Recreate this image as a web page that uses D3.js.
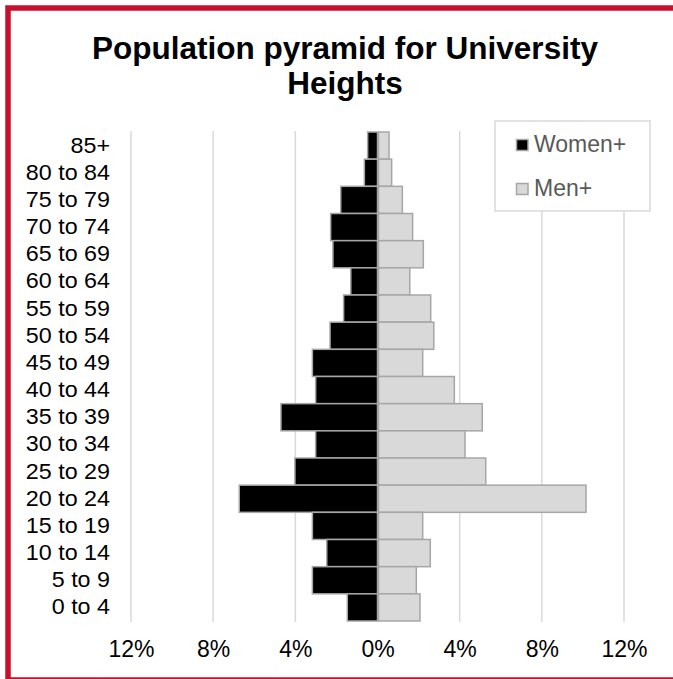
<!DOCTYPE html>
<html>
<head>
<meta charset="utf-8">
<script src="https://cdn.jsdelivr.net/npm/d3@7"></script>
<style>
  html, body { margin: 0; padding: 0; background: #fff; }
  svg { display: block; font-family: "Liberation Sans", Arial, sans-serif; }
</style>
</head>
<body>
<svg id="chart" width="673" height="679"></svg>
<script>
// ---- data ----
const ageGroups = ["85+", "80 to 84", "75 to 79", "70 to 74", "65 to 69", "60 to 64", "55 to 59",
  "50 to 54", "45 to 49", "40 to 44", "35 to 39", "30 to 34", "25 to 29", "20 to 24",
  "15 to 19", "10 to 14", "5 to 9", "0 to 4"];
const women = [0.48, 0.64, 1.79, 2.28, 2.17, 1.30, 1.65, 2.31, 3.17, 3.01, 4.70, 3.01, 4.02, 6.73, 3.17, 2.47, 3.17, 1.47];
const men   = [0.56, 0.69, 1.21, 1.71, 2.23, 1.57, 2.59, 2.74, 2.20, 3.74, 5.10, 4.26, 5.27, 10.15, 2.20, 2.57, 1.89, 2.07];
const tickValues = [-12, -8, -4, 0, 4, 8, 12];
const seriesNames = ["Women+", "Men+"];
const titleLines = ["Population pyramid for University", "Heights"];

const svg = d3.select("#chart");

// outer red frame (right side runs off the canvas)
svg.append("rect")
  .attr("x", 8).attr("y", 8).attr("width", 720).attr("height", 672)
  .attr("fill", "none").attr("stroke", "#c8102e").attr("stroke-width", 5.5);

// title
svg.append("g").selectAll("text").data(titleLines).join("text")
  .attr("x", 345).attr("y", (d, i) => i === 0 ? 59 : 94)
  .attr("text-anchor", "middle")
  .attr("font-size", 31.5).attr("font-weight", "bold").attr("fill", "#000")
  .text(d => d);

const x = d3.scaleLinear().domain([-12, 12]).range([131, 624]);
const y = d3.scaleBand().domain(ageGroups).range([132, 621]).padding(0);

// gridlines
svg.append("g").selectAll("line").data(tickValues).join("line")
  .attr("x1", d => x(d)).attr("x2", d => x(d))
  .attr("y1", 131).attr("y2", 622)
  .attr("stroke", "#d9d9d9").attr("stroke-width", 1.5);

// bars
const rows = ageGroups.map((g, i) => ({ g, w: women[i], m: men[i] }));
svg.append("g").selectAll("rect").data(rows).join("rect")
  .attr("x", d => x(-d.w)).attr("y", d => y(d.g))
  .attr("width", d => x(0) - x(-d.w)).attr("height", y.bandwidth())
  .attr("fill", "#000").attr("stroke", "#a6a6a6").attr("stroke-width", 1.5);
svg.append("g").selectAll("rect").data(rows).join("rect")
  .attr("x", x(0) + 1).attr("y", d => y(d.g))
  .attr("width", d => x(d.m) - x(0) - 1).attr("height", y.bandwidth())
  .attr("fill", "#d9d9d9").attr("stroke", "#a6a6a6").attr("stroke-width", 1.5);

// y axis labels
const yAxis = svg.append("g").attr("transform", "translate(131,0)")
  .call(d3.axisLeft(y).tickSize(0).tickPadding(21));
yAxis.select(".domain").remove();
yAxis.selectAll("text")
  .attr("font-size", 22).attr("fill", "#000").attr("font-family", "Liberation Sans, Arial, sans-serif")
  .attr("transform", "scale(1.06,1)").attr("x", -21 / 1.06);

// x axis labels
const xAxis = svg.append("g").attr("transform", "translate(0,632)")
  .call(d3.axisBottom(x).tickValues(tickValues).tickSize(0).tickPadding(9)
    .tickFormat(d => Math.abs(d) + "%"));
xAxis.select(".domain").remove();
xAxis.selectAll("text")
  .attr("font-size", 23).attr("fill", "#000").attr("font-family", "Liberation Sans, Arial, sans-serif");

// legend
const legend = svg.append("g");
legend.append("rect")
  .attr("x", 495).attr("y", 121).attr("width", 155).attr("height", 90)
  .attr("fill", "#fff").attr("stroke", "#d9d9d9").attr("stroke-width", 1.5);
const legendColors = ["#000", "#d9d9d9"];
const li = legend.selectAll("g.item").data(seriesNames).join("g").attr("class", "item")
  .attr("transform", (d, i) => `translate(0,${i * 44})`);
li.append("rect")
  .attr("x", 516.5).attr("y", 139.5).attr("width", 11.5).attr("height", 11)
  .attr("fill", (d, i) => legendColors[i]).attr("stroke", "#a6a6a6").attr("stroke-width", 1.5);
li.append("text")
  .attr("x", 534).attr("y", 152)
  .attr("font-size", 23).attr("fill", "#595959")
  .text(d => d);
</script>
</body>
</html>
